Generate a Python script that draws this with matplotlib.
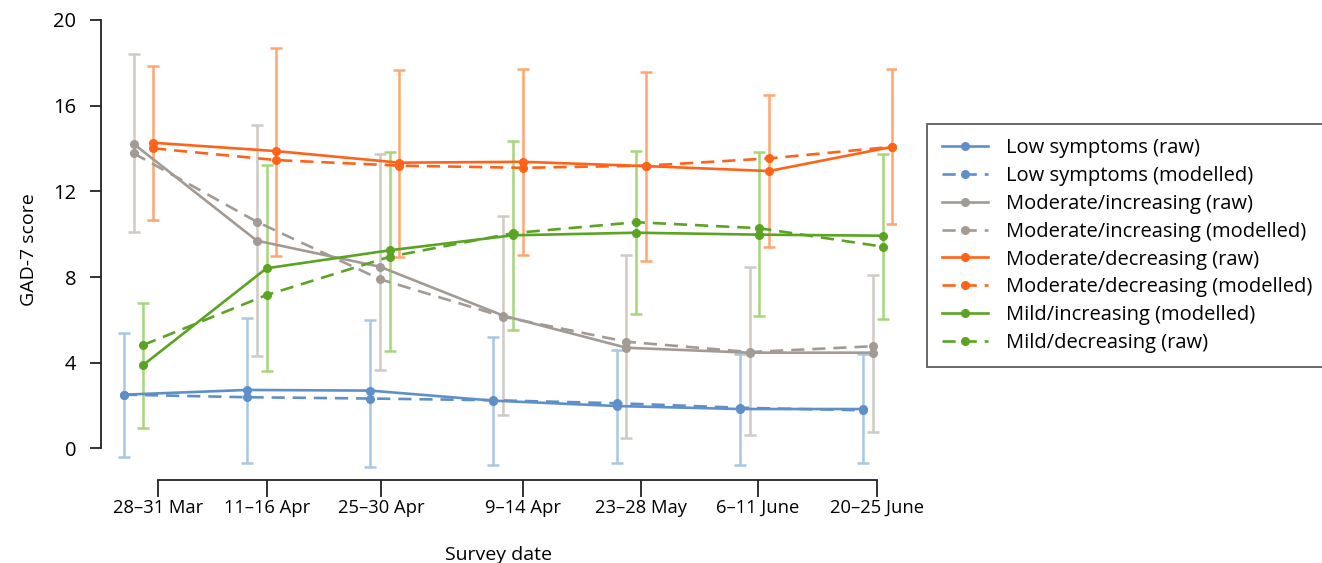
import matplotlib
matplotlib.use("Agg")
import matplotlib.pyplot as plt
import numpy as np

plt.rcParams["font.family"] = ["Open Sans", "DejaVu Sans"]

# survey rounds (plotted at even spacing), tick labels sit at their own spots
tick_labels = ["28–31 Mar", "11–16 Apr", "25–30 Apr", "9–14 Apr",
               "23–28 May", "6–11 June", "20–25 June"]
tick_pos = [0.158, 1.043, 1.968, 3.121, 4.079, 5.028, 5.994]

# GAD-7 scores
low_raw = [2.51, 2.73, 2.70, 2.23, 1.98, 1.84, 1.84]
low_mod = [2.51, 2.39, 2.33, 2.25, 2.11, 1.90, 1.78]
low_hi = [5.37, 6.08, 6.01, 5.22, 4.60, 4.41, 4.41]
low_lo = [-0.40, -0.66, -0.85, -0.77, -0.68, -0.77, -0.69]

modinc_raw = [14.22, 9.70, 8.48, 6.20, 4.70, 4.47, 4.47]
modinc_mod = [13.78, 10.58, 7.90, 6.15, 4.98, 4.50, 4.77]
modinc_hi = [18.39, 15.08, 13.74, 10.86, 9.04, 8.48, 8.10]
modinc_lo = [10.09, 4.32, 3.66, 1.56, 0.48, 0.63, 0.78]

moddec_raw = [14.27, 13.88, 13.34, 13.38, 13.18, 12.95, 14.08]
moddec_mod = [14.01, 13.46, 13.20, 13.10, 13.20, 13.54, 14.08]
moddec_hi = [17.86, 18.70, 17.68, 17.72, 17.58, 16.51, 17.71]
moddec_lo = [10.66, 9.00, 8.94, 9.03, 8.76, 9.40, 10.48]

mildinc_mod = [3.90, 8.41, 9.25, 9.95, 10.07, 9.98, 9.93]
milddec_raw = [4.83, 7.16, 8.95, 10.05, 10.56, 10.28, 9.42]
mild_hi = [6.80, 13.23, 13.85, 14.35, 13.88, 13.84, 13.74]
mild_lo = [0.97, 3.63, 4.55, 5.51, 6.29, 6.20, 6.03]

groups = [
    # (solid, dashed, hi, lo, line colour, bar colour, labels, offset)
    (low_raw, low_mod, low_hi, low_lo, "#5f8fc9", "#a9c6e2",
     ("Low symptoms (raw)", "Low symptoms (modelled)"), -1.5),
    (modinc_raw, modinc_mod, modinc_hi, modinc_lo, "#a39a93", "#cfcac4",
     ("Moderate/increasing (raw)", "Moderate/increasing (modelled)"), -0.5),
    (moddec_raw, moddec_mod, moddec_hi, moddec_lo, "#ff6319", "#ffa66e",
     ("Moderate/decreasing (raw)", "Moderate/decreasing (modelled)"), 1.5),
    (mildinc_mod, milddec_raw, mild_hi, mild_lo, "#5ba323", "#a5d67a",
     ("Mild/increasing (modelled)", "Mild/decreasing (raw)"), 0.5),
]

fig = plt.figure(figsize=(13.22, 5.63), dpi=100)
ax = fig.add_axes([101 / 1322, 1 - 479.5 / 563, (896.2 - 101) / 1322, (479.5 - 20) / 563])

base = np.arange(len(tick_labels))
step = 0.079
handles, labels = [], []
for solid, dashed, hi, lo, col, bar_col, labs, off in groups:
    x = base + off * step
    mid = np.array(solid)
    ax.errorbar(x, mid, yerr=[mid - np.array(lo), np.array(hi) - mid], fmt="none",
                ecolor=bar_col, elinewidth=1.8, capsize=4, capthick=1.8, zorder=1)
    (h1,) = ax.plot(x, solid, color=col, lw=1.9, marker="o", ms=5.5, zorder=3,
                    label=labs[0])
    (h2,) = ax.plot(x, dashed, color=col, lw=1.9, ls=(0, (5, 3)), marker="o",
                    ms=5.5, zorder=3, label=labs[1])
    handles += [h1, h2]
    labels += list(labs)

ax.set_xlim(-0.304, 6.15)
ax.set_ylim(-1.45, 20)
ax.set_yticks([0, 4, 8, 12, 16, 20])
ax.set_xticks(tick_pos)
ax.set_xticklabels(tick_labels)

for s in ["top", "right"]:
    ax.spines[s].set_visible(False)
ax.spines["left"].set_bounds(0, 20)
ax.spines["bottom"].set_bounds(tick_pos[0], tick_pos[-1])
for s in ["left", "bottom"]:
    ax.spines[s].set_linewidth(1.3)
    ax.spines[s].set_color("#222222")
ax.tick_params(axis="y", length=8, width=1.3, color="#222222", labelsize=14.5, pad=10)
ax.tick_params(axis="x", length=12, width=1.3, color="#222222", labelsize=13.2, pad=2)

ax.set_ylabel("GAD-7 score", fontsize=14, labelpad=11)
ax.set_xlabel("Survey date", fontsize=14, labelpad=21)

leg = fig.legend(handles, labels,
                 loc="upper left", bbox_to_anchor=(927 / 1322, 1 - 124 / 563),
                 borderaxespad=0, fontsize=14.5, handlelength=2.3, handletextpad=0.9,
                 labelspacing=0.385, fancybox=False, frameon=True, borderpad=0.72)
leg.get_frame().set_edgecolor("#333333")
leg.get_frame().set_linewidth(1.3)

fig.savefig("out.png", dpi=100)
